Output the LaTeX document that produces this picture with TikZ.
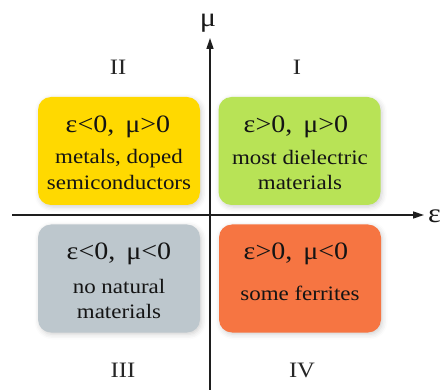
\documentclass[tikz,border=0pt]{standalone}
\usepackage{fontspec}
\setmainfont[FakeStretch=1.12]{Liberation Serif}
\usetikzlibrary{arrows.meta,shadows.blur}

\definecolor{quadyellow}{RGB}{255,217,0}
\definecolor{quadgreen}{RGB}{184,227,86}
\definecolor{quadgray}{RGB}{189,199,205}
\definecolor{quadorange}{RGB}{246,117,66}
\definecolor{axisdark}{RGB}{30,30,30}

\begin{document}
\begin{tikzpicture}[x=1pt, y=-1pt, >={Triangle[length=11pt,width=7pt]}, line width=1.4pt,
        quad/.style={rounded corners=13pt, minimum width=162pt, minimum height=108pt, inner sep=0pt,
            blur shadow={shadow xshift=1.5pt, shadow yshift=-2pt, shadow blur radius=5pt, shadow opacity=18}},
        sign/.style={anchor=base, inner sep=0pt, text=black!92, font=\fontsize{25}{29}\selectfont},
        desc/.style={anchor=base, inner sep=0pt, text=black!92, font=\fontsize{20.5}{24}\selectfont},
        roman/.style={anchor=base, inner sep=0pt, text=black!85, font=\fontsize{22}{26}\selectfont},
        axlabel/.style={inner sep=0pt, text=black!90, font=\fontsize{27}{30}\selectfont}]

    \useasboundingbox (0,0) rectangle (442,390);

    % --- cztery ćwiartki ---
    \foreach \n/\cx/\cy/\col in {I/299.5/151/quadgreen, II/119/151/quadyellow,
                                 III/119/278.5/quadgray, IV/300/278.5/quadorange} {
        \node[quad, fill=\col] (q\n) at (\cx,\cy) {};
    }

    % --- osie ---
    \coordinate (eps-start) at (12,215);
    \coordinate (eps-end) at (424,215);
    \coordinate (mu-start) at (210,390);
    \coordinate (mu-end) at (210,38);
    \draw[axisdark, ->] (eps-start) -- (eps-end);
    \draw[axisdark, ->] (mu-start) -- (mu-end);

    \node[axlabel, anchor=base] (mu-label) at (208,27) {μ};
    \node[axlabel, anchor=base east] (eps-label) at (441.5,223) {ε};

    % --- znaki epsilon i mu ---
    \foreach \n/\tx/\ty/\t in {I/296/133/{ε>0,\, μ>0}, II/118/133/{ε<0,\, μ>0},
                               III/119/260/{ε<0,\, μ<0}, IV/296/260/{ε>0,\, μ<0}} {
        \node[sign] (q\n-sign) at (\tx,\ty) {\t};
    }

    % --- opisy materiałów ---
    \foreach \k/\tx/\ty/\t in {I-a/300/165/{most dielectric}, I-b/300/190/{materials},
                               II-a/119/164/{metals, doped}, II-b/119/190/{semiconductors},
                               III-a/119/294/{no natural}, III-b/119/319/{materials},
                               IV-a/300/301/{some ferrites}} {
        \node[desc] (q\k) at (\tx,\ty) {\t};
    }

    % --- numery ćwiartek ---
    \foreach \n/\tx/\ty in {I/297/75, II/118/75, III/123/377, IV/302/377} {
        \node[roman] (num-\n) at (\tx,\ty) {\n};
    }

\end{tikzpicture}
\end{document}
